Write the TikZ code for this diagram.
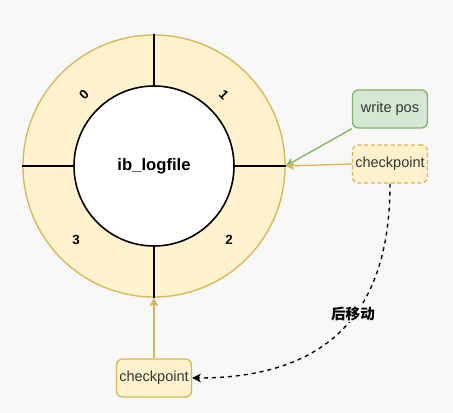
\documentclass[tikz,border=0pt]{standalone}
\usepackage{fontspec}
\setmainfont{Liberation Sans}
\newfontfamily\cjkfont{Noto Sans CJK SC}
\usetikzlibrary{arrows.meta}
\definecolor{paper}{HTML}{F8F8F8}
\definecolor{ringfill}{HTML}{FFF2CC}
\definecolor{ringline}{HTML}{D6B656}
\definecolor{posfill}{HTML}{D5E8D4}
\definecolor{posline}{HTML}{82B366}
\definecolor{boxtext}{HTML}{333333}
\tikzset{
  box/.style={rounded corners=4.5pt,minimum width=56.25pt,minimum height=28.5pt,inner sep=0pt,
    line width=1pt,text=boxtext,font=\fontsize{10.9}{13}\selectfont},
  digit/.style={font=\bfseries\fontsize{10}{12}\selectfont},
  tip/.style={-{Stealth[length=6.5pt,width=6.5pt,inset=1.8pt]}}
}
\begin{document}
\begin{tikzpicture}[x=0.75pt,y=-0.75pt]
  \fill[paper] (0,0) rectangle (453,413);
  \node[circle,minimum size=196.5pt,inner sep=0pt,fill=ringfill,draw=ringline,line width=1pt] (ring) at (154,166) {};
  \node[circle,minimum size=120pt,inner sep=0pt,fill=white,draw=black,line width=1.2pt,
    font=\bfseries\fontsize{12.5}{14}\selectfont] (log) at (154,166) {ib\_logfile};
  \draw[line width=1.2pt] (log.north) -- (ring.north);
  \draw[line width=1.2pt] (log.south) -- (ring.south);
  \draw[line width=1.2pt] (log.west) -- (ring.west);
  \draw[line width=1.2pt] (log.east) -- (ring.east);
  \node[digit,rotate=45] (s0) at (84,95) {0};
  \node[digit,rotate=-45] (s1) at (224,95) {1};
  \node[digit] (s2) at (229,240) {2};
  \node[digit] (s3) at (76,240) {3};
  \node[box,fill=posfill,draw=posline] (pos) at (390,109) {write pos};
  \node[box,fill=ringfill,draw=ringline,dashed,dash pattern=on 3pt off 2pt] (cpA) at (390,164) {checkpoint};
  \node[box,fill=ringfill,draw=ringline] (cpB) at (154,378) {checkpoint};
  \draw[tip,posline,line width=1pt] (pos.south west) -- (ring.east);
  \draw[tip,ringline,line width=1pt] (cpA.west) -- (ring.east);
  \draw[tip,ringline,line width=1pt] (cpB.north) -- (ring.south);
  \draw[tip,black,line width=1pt,dash pattern=on 3pt off 3pt] (cpA.south) .. controls (390,300) and (340,378) .. (cpB.east);
  \node[fill=paper,inner sep=1pt,font=\cjkfont\bfseries\fontsize{10.9}{13}\selectfont] (move) at (353,314) {后移动};
\end{tikzpicture}
\end{document}
